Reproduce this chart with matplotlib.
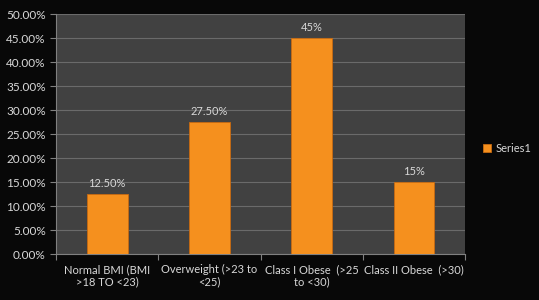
import matplotlib.pyplot as plt
from matplotlib.ticker import FuncFormatter, MultipleLocator

plt.rcParams['font.family'] = ['Lato', 'DejaVu Sans']

categories = ['Normal BMI (BMI\n>18 TO <23)', 'Overweight (>23 to\n<25)',
              'Class I Obese  (>25\nto <30)', 'Class II Obese  (>30)']
values = [12.5, 27.5, 45, 15]
labels = ['12.50%', '27.50%', '45%', '15%']

txt = '#d8d8d8'
fig = plt.figure(figsize=(5.39, 3.0), dpi=100, facecolor='#080808')
ax = fig.add_axes([0.104, 0.153, 0.759, 0.800])
ax.set_facecolor('#414141')

x = range(len(values))
bars = ax.bar(x, values, width=0.4, color='#f5901e', edgecolor='#c86a10',
              linewidth=0.6, label='Series1', zorder=3)
for b, lab in zip(bars, labels):
    ax.text(b.get_x() + b.get_width() / 2, b.get_height() + 1.0, lab,
            ha='center', va='bottom', color=txt, fontsize=8)

ax.set_xlim(-0.5, 3.5)
ax.set_ylim(0, 50)
ax.yaxis.set_major_locator(MultipleLocator(5))
ax.yaxis.set_major_formatter(FuncFormatter(lambda v, p: f'{v:.2f}%'))
ax.grid(axis='y', color='#6a6a6a', linewidth=0.8, zorder=0)

ax.set_xticks([i - 0.5 for i in range(5)], minor=False)
ax.set_xticklabels([])
ax.set_xticks(list(x), minor=True)
ax.set_xticklabels(categories, minor=True)
ax.tick_params(axis='x', which='minor', length=0, colors=txt, labelsize=8, pad=7)
ax.tick_params(axis='x', which='major', length=4, color='#808080')
ax.tick_params(axis='y', length=4, color='#808080', labelcolor=txt, labelsize=8.5)

for s in ['top', 'right']:
    ax.spines[s].set_visible(False)
ax.spines['left'].set_color('#808080')
ax.spines['bottom'].set_color('#808080')

leg = ax.legend(loc='center left', bbox_to_anchor=(1.02, 0.44), frameon=False,
                fontsize=8, handlelength=0.7, handleheight=0.7, handletextpad=0.4)
for t in leg.get_texts():
    t.set_color(txt)

fig.savefig('out.png', dpi=100, facecolor=fig.get_facecolor())
